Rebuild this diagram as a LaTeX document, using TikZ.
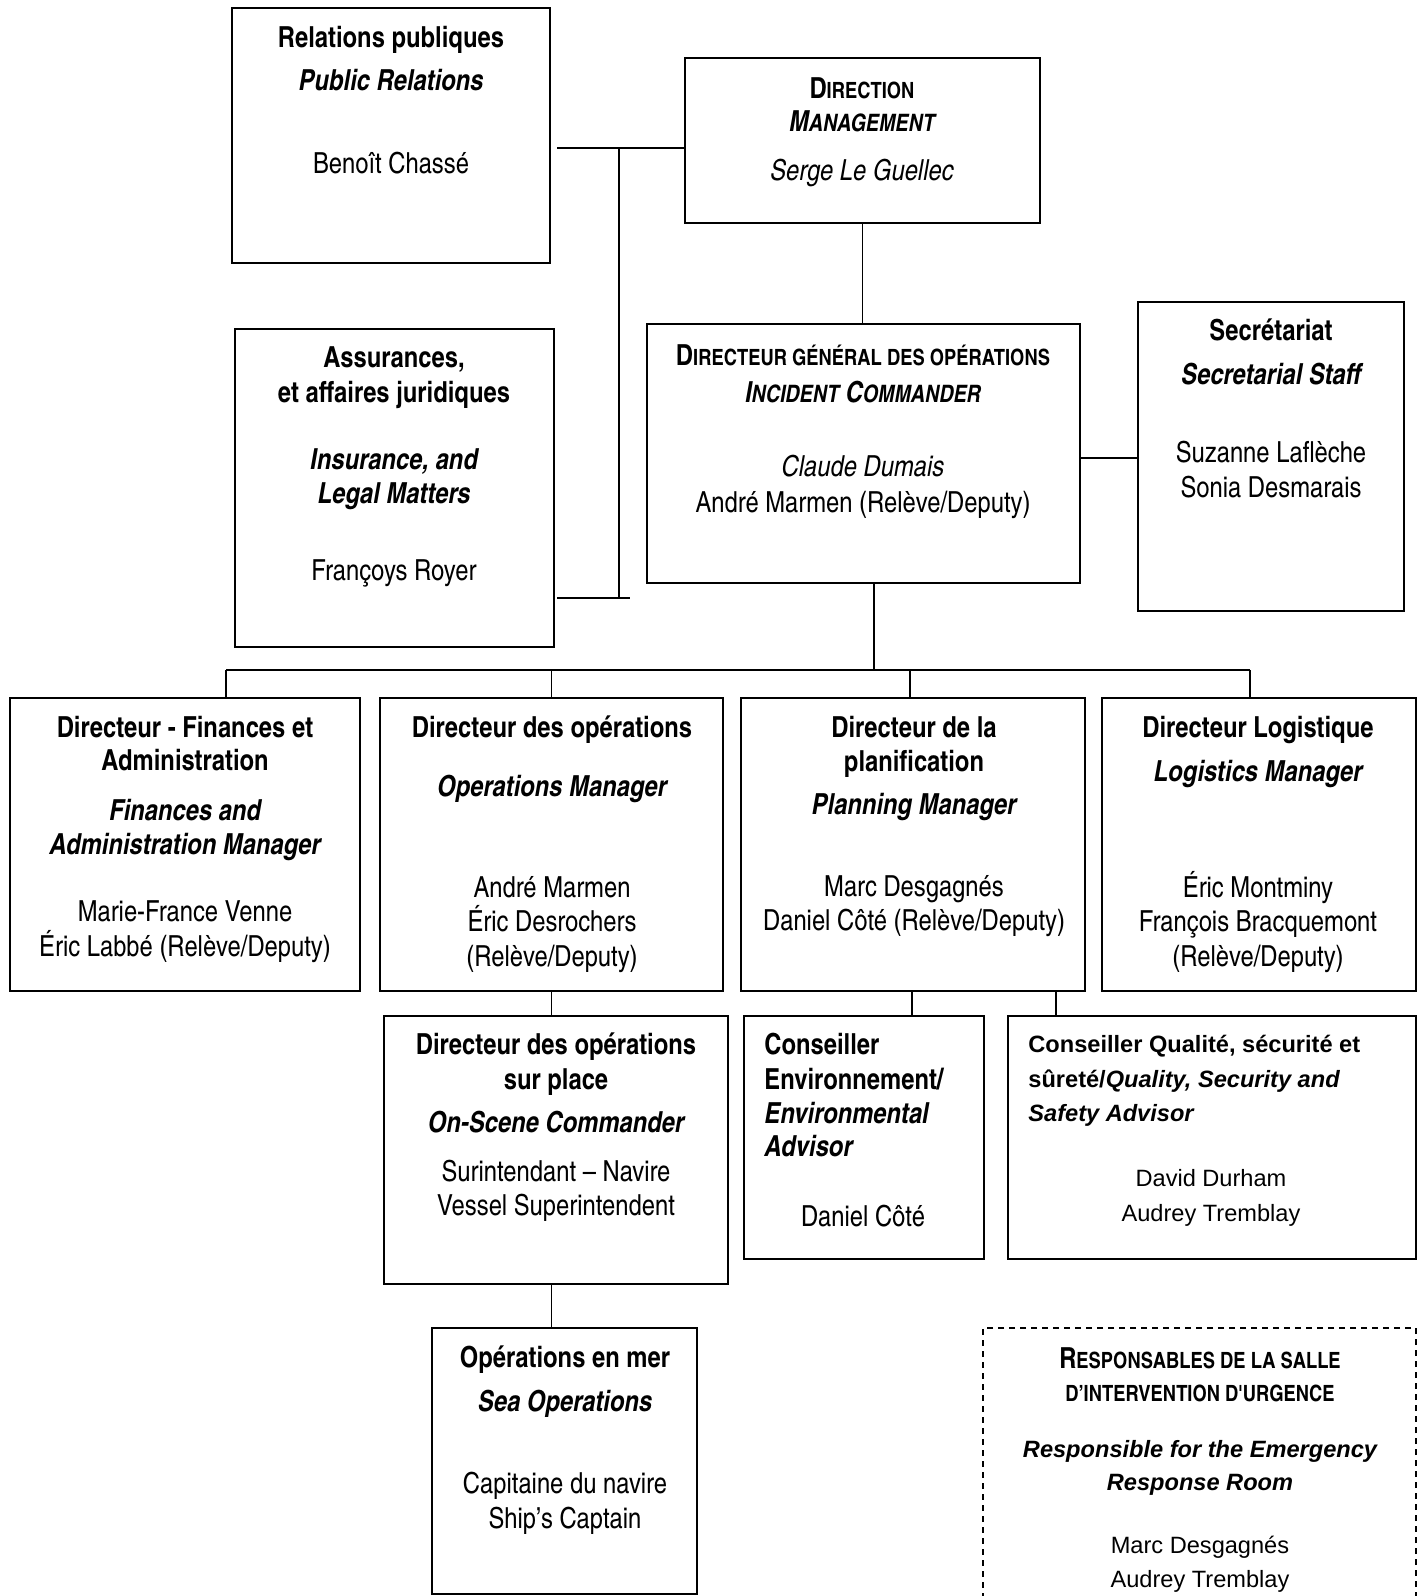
\documentclass[tikz,border=0pt]{standalone}
\usepackage{fontspec}
\usetikzlibrary{fit,calc}
\newfontfamily\cnfont{texgyreheroscn}[Extension=.otf, UprightFont=*-regular, BoldFont=*-bold, ItalicFont=*-italic, BoldItalicFont=*-bolditalic]
\newfontfamily\arfont{Liberation Sans}
\newcommand\smc[1]{{\fontsize{11.2}{14}\selectfont #1}}
\newcommand\smci[1]{{\fontsize{12.0}{14}\selectfont #1}}
\tikzset{
  box/.style={draw, line width=1.1pt, inner sep=0pt, outer sep=0pt},
  dbox/.style={draw, line width=1pt, dash pattern=on 3pt off 2.5pt, inner sep=0pt, outer sep=0pt},
  conn/.style={line width=0.9pt},
  tx/.style={anchor=base, inner sep=0pt, font=\cnfont\fontsize{14.5}{17.3}\selectfont},
  tr/.style={tx},
  tb/.style={tx, font=\cnfont\fontsize{14.5}{17.3}\selectfont\bfseries},
  tbi/.style={tx, font=\cnfont\fontsize{14.5}{17.3}\selectfont\bfseries\itshape},
  ti/.style={tx, font=\cnfont\fontsize{14.5}{17.3}\selectfont\itshape},
  ar/.style={anchor=base, inner sep=0pt, font=\arfont\fontsize{11.8}{14}\selectfont},
  ab/.style={ar, font=\arfont\fontsize{11.8}{14}\selectfont\bfseries},
  abi/.style={ar, font=\arfont\fontsize{11.8}{14}\selectfont\bfseries\itshape},
}
\begin{document}
\begin{tikzpicture}[x=0.5pt,y=-0.5pt]
\useasboundingbox (0,0) rectangle (1420,1596);
% boxes
\node[box, fit={(232,8)(550,263)}] (pr) {};
\node[box, fit={(685,58)(1040,223)}] (dir) {};
\node[box, fit={(235,329)(554,647)}] (ass) {};
\node[box, fit={(647,324)(1080,583)}] (dgo) {};
\node[box, fit={(1138,302)(1404,611)}] (sec) {};
\node[box, fit={(10,698)(360,991)}] (fin) {};
\node[box, fit={(380,698)(723,991)}] (ops) {};
\node[box, fit={(741,698)(1085,991)}] (plan) {};
\node[box, fit={(1102,698)(1416,991)}] (log) {};
\node[box, fit={(384,1016)(728,1284)}] (ons) {};
\node[box, fit={(744,1016)(984,1259)}] (env) {};
\node[box, fit={(1008,1016)(1416,1259)}] (qual) {};
\node[box, fit={(432,1328)(697,1594)}] (sea) {};
\begin{scope}
\clip (0,0) rectangle (1420,1596);
\node[dbox, fit={(983,1328)(1416,1660)}] (room) {};
\end{scope}

% connectors
\coordinate (prR) at (557,148);
\coordinate (vtop) at (619,148);
\coordinate (vbot) at (619,598);
\coordinate (asR) at (557,598);
\coordinate (asE) at (630,598);
\draw[conn] (prR) -- (prR -| dir.west);
\draw[conn] (vtop) -- (vbot);
\draw[conn] (asR) -- (asE);
\draw[conn] (dir.south) -- (dir.south |- dgo.north);
\coordinate (ds) at (0,458);
\draw[conn] (dgo.east |- ds) -- (sec.west |- ds);
\coordinate (bus) at (874,670);
\coordinate (busL) at (226,670);
\coordinate (busR) at (1250,670);
\coordinate (pd) at (910,670);
\draw[conn] (dgo.south -| bus) -- (bus);
\draw[conn] (busL) -- (busR);
\draw[conn] (busL) -- (busL |- fin.north);
\draw[conn] (ops.north |- bus) -- (ops.north);
\draw[conn] (pd) -- (pd |- plan.north);
\draw[conn] (busR) -- (busR |- log.north);
\draw[conn] (ops.south) -- (ops.south |- ons.north);
\draw[conn] (ops.south |- ons.south) -- (ops.south |- sea.north);
\coordinate (pe) at (912,0);
\coordinate (pq) at (1056,0);
\draw[conn] (pe |- plan.south) -- (pe |- env.north);
\draw[conn] (pq |- plan.south) -- (pq |- qual.north);

% texts: Public relations
\node[tb] (pr1) at (391,47) {Relations publiques};
\node[tbi] (pr2) at (391,90) {Public Relations};
\node[tr] (pr3) at (391,173) {Benoît Chassé};
% Direction
\node[tb] (d1) at (862,98) {D\smc{IRECTION}};
\node[tbi] (d2) at (862,131) {M\smci{ANAGEMENT}};
\node[ti] (d3) at (862,180) {Serge Le Guellec};
% Assurances
\node[tb] (a1) at (394,367) {Assurances,};
\node[tb] (a2) at (394,402) {et affaires juridiques};
\node[tbi] (a3) at (394,469) {Insurance, and};
\node[tbi] (a4) at (394,503) {Legal Matters};
\node[tr] (a5) at (394,580) {Françoys Royer};
% DGO
\node[tb] (g1) at (863,365) {D\smc{IRECTEUR GÉNÉRAL DES OPÉRATIONS}};
\node[tbi] (g2) at (863,402) {I\smci{NCIDENT} C\smci{OMMANDER}};
\node[ti] (g3) at (863,476) {Claude Dumais};
\node[tr] (g4) at (863,512) {André Marmen (Relève/Deputy)};
% Secretariat
\node[tb] (s1) at (1271,340) {Secrétariat};
\node[tbi] (s2) at (1271,384) {Secretarial Staff};
\node[tr] (s3) at (1271,462) {Suzanne Laflèche};
\node[tr] (s4) at (1271,497) {Sonia Desmarais};
% Finances
\node[tb] (f1) at (185,737) {Directeur - Finances et};
\node[tb] (f2) at (185,770) {Administration};
\node[tbi] (f3) at (185,820) {Finances and};
\node[tbi] (f4) at (185,854) {Administration Manager};
\node[tr] (f5) at (185,921) {Marie-France Venne};
\node[tr] (f6) at (185,956) {Éric Labbé (Relève/Deputy)};
% Operations
\node[tb] (o1) at (552,737) {Directeur des opérations};
\node[tbi] (o2) at (552,796) {Operations Manager};
\node[tr] (o3) at (552,897) {André Marmen};
\node[tr] (o4) at (552,931) {Éric Desrochers};
\node[tr] (o5) at (552,966) {(Relève/Deputy)};
% Planning
\node[tb] (p1) at (914,737) {Directeur de la};
\node[tb] (p2) at (914,771) {planification};
\node[tbi] (p3) at (914,814) {Planning Manager};
\node[tr] (p4) at (914,896) {Marc Desgagnés};
\node[tr] (p5) at (914,930) {Daniel Côté (Relève/Deputy)};
% Logistics
\node[tb] (l1) at (1258,737) {Directeur Logistique};
\node[tbi] (l2) at (1258,781) {Logistics Manager};
\node[tr] (l3) at (1258,897) {Éric Montminy};
\node[tr] (l4) at (1258,931) {François Bracquemont};
\node[tr] (l5) at (1258,966) {(Relève/Deputy)};
% On-scene
\node[tb] (n1) at (556,1054) {Directeur des opérations};
\node[tb] (n2) at (556,1089) {sur place};
\node[tbi] (n3) at (556,1132) {On-Scene Commander};
\node[tr] (n4) at (556,1181) {Surintendant – Navire};
\node[tr] (n5) at (556,1215) {Vessel Superintendent};
% Environment
\node[tb, anchor=base west] (e1) at (764,1054) {Conseiller};
\node[tb, anchor=base west] (e2) at (764,1089) {Environnement/};
\node[tbi, anchor=base west] (e3) at (764,1123) {Environmental};
\node[tbi, anchor=base west] (e4) at (764,1156) {Advisor};
\node[tr] (e5) at (863,1226) {Daniel Côté};
% Quality
\node[ab, anchor=base west] (q1) at (1028,1052) {Conseiller Qualité, sécurité et};
\node[ab, anchor=base west] (q2) at (1028,1087) {sûreté/\textit{Quality, Security and}};
\node[abi, anchor=base west] (q3) at (1028,1121) {Safety Advisor};
\node[ar] (q4) at (1211,1186) {David Durham};
\node[ar] (q5) at (1211,1221) {Audrey Tremblay};
% Sea
\node[tb] (m1) at (565,1367) {Opérations en mer};
\node[tbi] (m2) at (565,1411) {Sea Operations};
\node[tr] (m3) at (565,1493) {Capitaine du navire};
\node[tr] (m4) at (565,1528) {Ship’s Captain};
% Emergency room
\node[tb] (r1) at (1200,1368) {R\smc{ESPONSABLES DE LA SALLE}};
\node[tb] (r2) at (1200,1401) {\smc{D’INTERVENTION D'URGENCE}};
\node[abi] (r3) at (1200,1457) {Responsible for the Emergency};
\node[abi] (r4) at (1200,1490) {Response Room};
\node[ar] (r5) at (1200,1553) {Marc Desgagnés};
\node[ar] (r6) at (1200,1587) {Audrey Tremblay};
\end{tikzpicture}
\end{document}
